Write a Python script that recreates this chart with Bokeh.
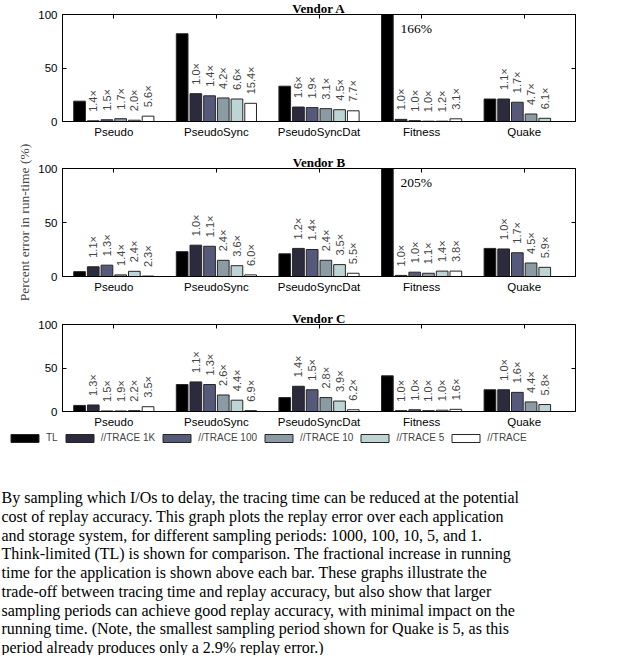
import math
from bokeh.plotting import figure
from bokeh.layouts import column
from bokeh.models import (ColumnDataSource, Range1d, FactorRange, FixedTicker,
                          LinearAxis, CategoricalAxis, Legend, LegendItem, Title)
from bokeh.transform import dodge
from bokeh.core.properties import value
from bokeh.embed import file_html
from bokeh.resources import INLINE

NAN = float("nan")

# ---------------- data ----------------
categories = ["Pseudo", "PseudoSync", "PseudoSyncDat", "Fitness", "Quake"]
series_names = ["TL", "//TRACE 1K", "//TRACE 100", "//TRACE 10", "//TRACE 5", "//TRACE"]
series_colors = ["#000000", "#2b2b3d", "#565a7a", "#8a9ba3", "#bdd4d4", "#ffffff"]
y_ticks = [0, 50, 100]

# percent error in run-time, one list per series (TL, 1K, 100, 10, 5, 1)
vendor_a_tl = [19, 82, 33, 166, 21]
vendor_a_1k = [0.6, 26, 13.5, 2, 21]
vendor_a_100 = [1.6, 24, 13, 0.8, 18]
vendor_a_10 = [2.6, 22, 12, 0.3, 7]
vendor_a_5 = [1.2, 21, 11, 0.3, 3]
vendor_a_1 = [5, 17, 10, 2.5, NAN]

vendor_b_tl = [4.5, 23, 21, 205, 26]
vendor_b_1k = [9, 29, 26, 1, 25.5]
vendor_b_100 = [10.5, 28, 25, 4, 22]
vendor_b_10 = [1.5, 15, 15, 3, 12.5]
vendor_b_5 = [4.8, 10, 11, 5, 8.5]
vendor_b_1 = [0.4, 1.5, 3, 5, NAN]

vendor_c_tl = [7, 31, 16, 41, 25]
vendor_c_1k = [7.5, 34, 29, 1, 25]
vendor_c_100 = [0.6, 31, 25, 2, 22]
vendor_c_10 = [0.6, 19, 16, 1, 11]
vendor_c_5 = [1, 13, 12, 1.5, 8]
vendor_c_1 = [5.5, 1, 2, 2.5, NAN]

# fractional increase in running time (labels above bars), series 1K..1
vendor_a_slow_1k = [1.4, 1.0, 1.6, 1.0, 1.1]
vendor_a_slow_100 = [1.5, 1.4, 1.9, 1.0, 1.7]
vendor_a_slow_10 = [1.7, 4.2, 3.1, 1.0, 4.7]
vendor_a_slow_5 = [2.0, 6.6, 4.5, 1.2, 6.1]
vendor_a_slow_1 = [5.6, 15.4, 7.7, 3.1, NAN]

vendor_b_slow_1k = [1.1, 1.0, 1.2, 1.0, 1.0]
vendor_b_slow_100 = [1.3, 1.1, 1.4, 1.0, 1.7]
vendor_b_slow_10 = [1.4, 2.4, 2.4, 1.1, 4.5]
vendor_b_slow_5 = [2.4, 3.6, 3.5, 1.4, 5.9]
vendor_b_slow_1 = [2.3, 6.0, 5.5, 3.8, NAN]

vendor_c_slow_1k = [1.3, 1.1, 1.4, 1.0, 1.0]
vendor_c_slow_100 = [1.5, 1.3, 1.5, 1.0, 1.6]
vendor_c_slow_10 = [1.9, 2.6, 2.8, 1.0, 4.4]
vendor_c_slow_5 = [2.2, 4.4, 3.9, 1.0, 5.8]
vendor_c_slow_1 = [3.5, 6.9, 6.2, 1.6, NAN]

caption_lines = [
    "By sampling which I/Os to delay, the tracing time can be reduced at the potential",
    "cost of replay accuracy. This graph plots the replay error over each application",
    "and storage system, for different sampling periods:  1000, 100, 10, 5, and 1.",
    "Think-limited (TL) is shown for comparison. The fractional increase in running",
    "time for the application is shown above each bar.  These graphs illustrate the",
    "trade-off between tracing time and replay accuracy, but also show that larger",
    "sampling periods can achieve good replay accuracy, with minimal impact on the",
    "running time. (Note, the smallest sampling period shown for Quake is 5, as this",
    "period already produces only a 2.9% replay error.)",
]

# ---------------- styling ----------------
W = 620
FRAME_L = 62
FRAME_R = 575
PITCH = 0.1335
BAR_W = 0.114
SANS = "Liberation Sans"
SERIF = "Liberation Serif"


def fmt_slow(v):
    return "" if (v is None or v != v) else f"{v:.1f}\u00d7"


def make_panel(title, errors, slows, height, top, bottom, ylabel=None):
    p = figure(x_range=FactorRange(*categories), y_range=Range1d(0, 100),
               width=W, height=height, output_backend="svg", toolbar_location=None,
               min_border_left=FRAME_L, min_border_right=W - FRAME_R,
               min_border_top=top, min_border_bottom=bottom)
    p.xgrid.grid_line_color = None
    p.ygrid.grid_line_color = None
    p.outline_line_color = "black"
    p.outline_line_width = 1
    p.background_fill_color = "white"

    # bottom categorical axis
    xa = p.xaxis[0]
    xa.major_tick_line_color = None
    xa.major_tick_in = 0
    xa.major_tick_out = 0
    xa.axis_line_color = "black"
    xa.major_label_standoff = 4
    xa.major_label_text_font = SANS
    xa.major_label_text_font_size = "11.5px"
    xa.major_label_text_color = "black"

    # left axis
    ya = p.yaxis[0]
    ya.ticker = FixedTicker(ticks=y_ticks)
    ya.major_tick_in = 4
    ya.major_tick_out = 0
    ya.minor_tick_in = 0
    ya.minor_tick_out = 0
    ya.minor_tick_line_color = None
    ya.axis_line_color = "black"
    ya.major_label_standoff = 5
    ya.major_label_text_font = SANS
    ya.major_label_text_font_size = "11.5px"
    ya.major_label_text_color = "black"
    if ylabel:
        ya.axis_label = ylabel
        ya.axis_label_text_font = SERIF
        ya.axis_label_text_font_style = "normal"
        ya.axis_label_text_font_size = "13.5px"
        ya.axis_label_standoff = 3

    ra = LinearAxis(ticker=FixedTicker(ticks=y_ticks), major_tick_in=4, major_tick_out=0,
                    minor_tick_in=0, minor_tick_out=0,
                    minor_tick_line_color=None, major_label_text_font_size="0px",
                    major_label_text_color=None, major_label_standoff=0,
                    axis_line_color="black")
    p.add_layout(ra, "right")
    # top axis carries the inward category ticks
    ta = CategoricalAxis(major_tick_in=4, major_tick_out=0, minor_tick_in=0, minor_tick_out=0,
                         major_label_text_font_size="0px",
                         major_label_text_color=None, major_label_standoff=0,
                         axis_line_color="black")
    p.add_layout(ta, "above")
    p.add_layout(Title(text=title, align="center", offset=-6, standoff=-4,
                       vertical_align="middle",
                       text_font=SERIF, text_font_style="bold", text_font_size="13px",
                       text_color="black"), "above")

    for i, color in enumerate(series_colors):
        off = (i - 2.5) * PITCH
        data = dict(cat=categories, err=errors[i])
        if i > 0:
            data["lab"] = [fmt_slow(v) for v in slows[i - 1]]
        src = ColumnDataSource(data)
        p.vbar(x=dodge("cat", off, range=p.x_range), top="err", width=BAR_W,
               fill_color=color, line_color="#262626", line_width=1, source=src)
        if i > 0:
            p.text(x=dodge("cat", off, range=p.x_range), y="err", text="lab", source=src,
                   angle=math.pi / 2, text_align="left", text_baseline="middle",
                   y_offset=-9, text_font=value(SANS), text_font_size="11px",
                   text_color="#444444")

    # annotate bars that run off the top of the axis
    over = [(c, v) for c, v in zip(categories, errors[0]) if v > 100]
    if over:
        osrc = ColumnDataSource(dict(cat=[c for c, _ in over], y=[100 for _ in over],
                                     txt=[f"{v:g}%" for _, v in over]))
        p.text(x=dodge("cat", 0, range=p.x_range), y="y", text="txt", source=osrc,
               x_offset=-21, y_offset=13.5, text_align="left", text_baseline="middle",
               text_font=value(SERIF), text_font_size="13.5px", text_color="black")
    return p


pA = make_panel("Vendor A",
                [vendor_a_tl, vendor_a_1k, vendor_a_100, vendor_a_10, vendor_a_5, vendor_a_1],
                [vendor_a_slow_1k, vendor_a_slow_100, vendor_a_slow_10, vendor_a_slow_5, vendor_a_slow_1],
                height=143, top=14, bottom=22)
pB = make_panel("Vendor B",
                [vendor_b_tl, vendor_b_1k, vendor_b_100, vendor_b_10, vendor_b_5, vendor_b_1],
                [vendor_b_slow_1k, vendor_b_slow_100, vendor_b_slow_10, vendor_b_slow_5, vendor_b_slow_1],
                height=165, top=25, bottom=32, ylabel="Percent error in run-time (%)")
pC = make_panel("Vendor C",
                [vendor_c_tl, vendor_c_1k, vendor_c_100, vendor_c_10, vendor_c_5, vendor_c_1],
                [vendor_c_slow_1k, vendor_c_slow_100, vendor_c_slow_10, vendor_c_slow_5, vendor_c_slow_1],
                height=122, top=16, bottom=19)

# ---------------- legend + caption ----------------
CAP_H = 225
cap = figure(width=W, height=CAP_H, x_range=Range1d(0, W), y_range=Range1d(CAP_H, 0),
             output_backend="svg", toolbar_location=None, min_border=0,
             x_axis_location=None, y_axis_location=None, frame_align=False)
cap.grid.grid_line_color = None
cap.outline_line_color = None

# swatch renderers for the legend (a single NaN entry each, nothing drawn)
legend_items = []
for name, color in zip(series_names, series_colors):
    r = cap.vbar(x=[NAN], top=[NAN], width=1, fill_color=color, line_color="#262626", line_width=1)
    legend_items.append(LegendItem(label=name, renderers=[r]))
lg = Legend(items=legend_items, orientation="horizontal", location=(7, CAP_H - 13),
            glyph_width=35, glyph_height=10, label_standoff=4, spacing=4,
            padding=0, margin=0, border_line_color=None, background_fill_alpha=0,
            label_text_font=SANS, label_text_font_size="10px",
            label_height=10, label_width=0)
cap.add_layout(lg)

cap_src = ColumnDataSource(dict(x=[1] * len(caption_lines),
                                y=[67 + 18.75 * k for k in range(len(caption_lines))],
                                t=caption_lines))
cap.text(x="x", y="y", text="t", source=cap_src, text_font=value(SERIF),
         text_font_size="16px", text_baseline="middle", text_align="left", text_color="black")

layout = column(pA, pB, pC, cap, spacing=0)
open("out.html", "w").write(file_html(layout, INLINE))
